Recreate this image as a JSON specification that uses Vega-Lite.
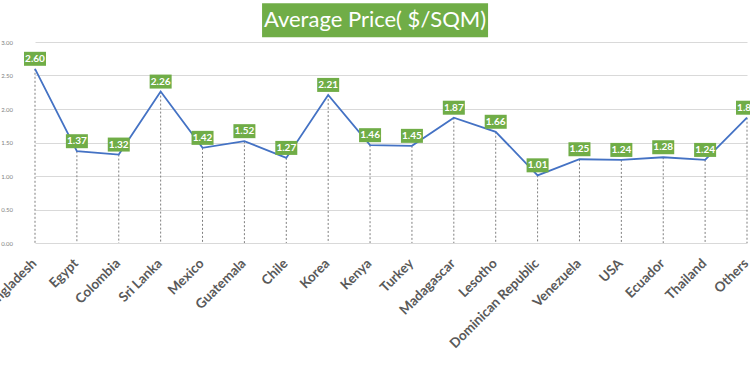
{
  "$schema": "https://vega.github.io/schema/vega-lite/v6.json",
  "width": 736,
  "height": 201,
  "autosize": {"type": "none"},
  "padding": {"left": 14, "top": 42, "right": 0, "bottom": 122},
  "background": "white",
  "config": {
    "view": {"stroke": null},
    "font": "Lato"
  },
  "data": {
    "values": [
      {"country": "Bangladesh", "value": 2.60},
      {"country": "Egypt", "value": 1.37},
      {"country": "Colombia", "value": 1.32},
      {"country": "Sri Lanka", "value": 2.26},
      {"country": "Mexico", "value": 1.42},
      {"country": "Guatemala", "value": 1.52},
      {"country": "Chile", "value": 1.27},
      {"country": "Korea", "value": 2.21},
      {"country": "Kenya", "value": 1.46},
      {"country": "Turkey", "value": 1.45},
      {"country": "Madagascar", "value": 1.87},
      {"country": "Lesotho", "value": 1.66},
      {"country": "Dominican Republic", "value": 1.01},
      {"country": "Venezuela", "value": 1.25},
      {"country": "USA", "value": 1.24},
      {"country": "Ecuador", "value": 1.28},
      {"country": "Thailand", "value": 1.24},
      {"country": "Others", "value": 1.87}
    ]
  },
  "encoding": {
    "x": {
      "field": "country",
      "type": "ordinal",
      "sort": null,
      "scale": {
        "type": "point",
        "range": [21, 733],
        "padding": 0,
        "domain": ["Bangladesh", "Egypt", "Colombia", "Sri Lanka", "Mexico", "Guatemala", "Chile", "Korea", "Kenya", "Turkey", "Madagascar", "Lesotho", "Dominican Republic", "Venezuela", "USA", "Ecuador", "Thailand", "Others"]
      },
      "axis": {
        "title": null,
        "labelAngle": -45,
        "labelFont": "Lato",
        "labelFontSize": 13.5,
        "labelFontWeight": "bold",
        "labelColor": "#595959",
        "labelPadding": 13,
        "labelOffset": -6,
        "ticks": false,
        "domain": false,
        "grid": false
      }
    },
    "y": {
      "field": "value",
      "type": "quantitative",
      "scale": {"domain": [0, 3], "nice": false},
      "axis": {
        "title": null,
        "values": [0, 0.5, 1, 1.5, 2, 2.5, 3],
        "format": ".2f",
        "labelFontSize": 6,
        "labelColor": "#7f7f7f",
        "labelPadding": 1.5,
        "ticks": false,
        "domain": false,
        "grid": true,
        "gridColor": "#d9d9d9",
        "gridWidth": 1
      }
    }
  },
  "layer": [
    {
      "transform": [{"filter": "datum.country === 'Kenya'"}],
      "layer": [
        {
          "mark": {"type": "bar", "color": "#70ad47", "width": 226, "xOffset": 5},
          "encoding": {
            "x": {"datum": "Kenya", "type": "ordinal"},
            "y": {"datum": 3.58, "type": "quantitative"},
            "y2": {"datum": 3.07}
          }
        },
        {
          "mark": {"type": "text", "color": "white", "font": "Lato", "fontSize": 22, "baseline": "middle", "align": "center", "xOffset": 5},
          "encoding": {
            "x": {"datum": "Kenya", "type": "ordinal"},
            "y": {"datum": 3.325, "type": "quantitative"},
            "text": {"value": "Average Price( $/SQM)"}
          }
        }
      ]
    },
    {
      "mark": {"type": "rule", "color": "#7f7f7f", "strokeDash": [2, 2], "strokeWidth": 1},
      "encoding": {
        "y2": {"datum": 0}
      }
    },
    {
      "mark": {"type": "line", "color": "#4472c4", "strokeWidth": 1.8},
      "encoding": {}
    },
    {
      "mark": {"type": "bar", "color": "#70ad47", "width": 22, "yOffset": -3, "y2Offset": -17},
      "encoding": {
        "y2": {"field": "value"}
      }
    },
    {
      "mark": {"type": "text", "color": "white", "font": "Lato", "fontSize": 10, "fontWeight": "bold", "dy": -10, "baseline": "middle"},
      "encoding": {
        "text": {"field": "value", "type": "quantitative", "format": ".2f"}
      }
    }
  ]
}
